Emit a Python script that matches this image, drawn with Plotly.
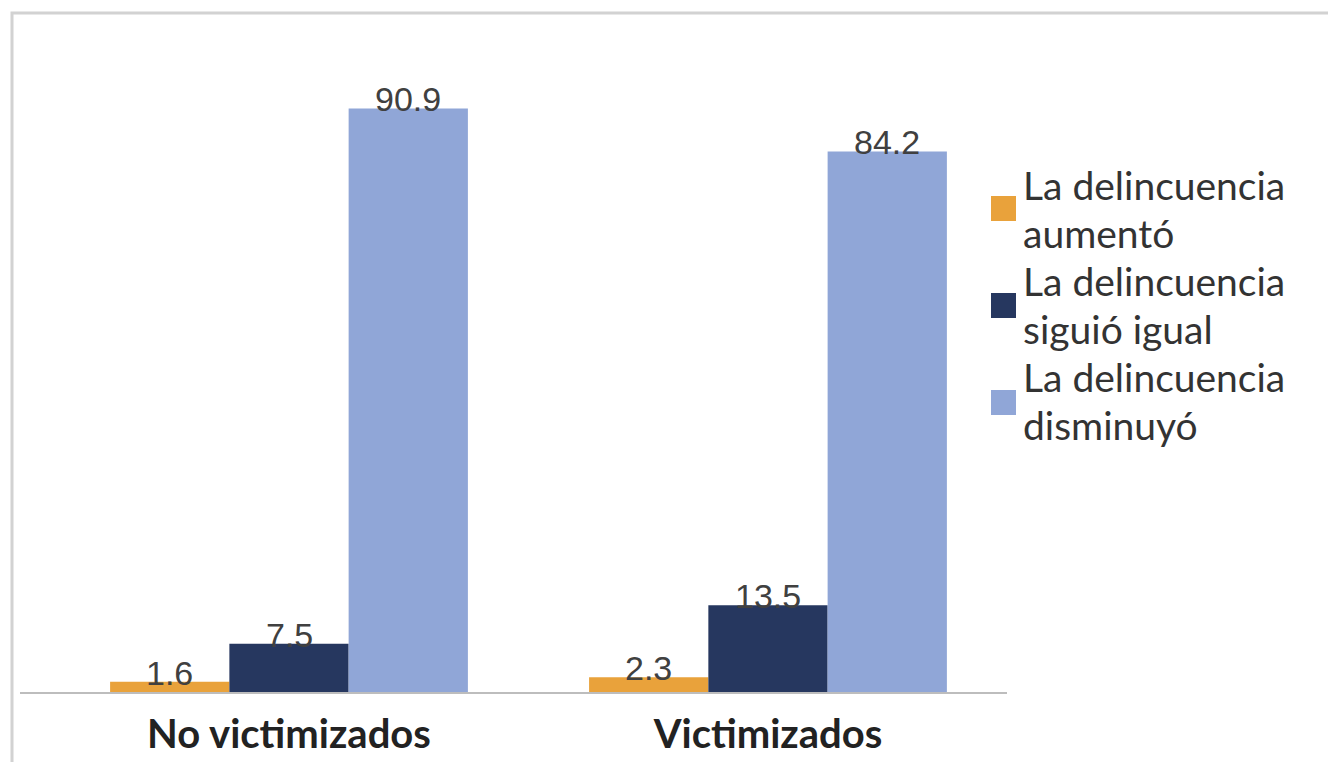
import plotly.graph_objects as go

categories = ["No victimizados", "Victimizados"]
series_names = ["La delincuencia<br>aumentó", "La delincuencia<br>siguió igual", "La delincuencia<br>disminuyó"]
aumento = [1.6, 2.3]
igual = [7.5, 13.5]
disminuyo = [90.9, 84.2]
colors = ["#E9A23B", "#26375F", "#90A6D7"]

W, H = 1320, 754
L, R, T, B = 12, 321, 42, 70
PW, PH = W - L - R, H - T - B
BARGAP = 0.253
LEG_SIZE = 39


def fx(p):
    return p - 8


def fy(p):
    return p - 8


def px_x(p):
    return (p - L) / PW


def px_y(p):
    return (H - B - p) / PH


fig = go.Figure()
series = [aumento, igual, disminuyo]
bw = (1 - BARGAP) / len(series)
annotations = []
shapes = []
legend_baselines = [(200, 248), (296, 344), (392, 440)]
legend_sq = [208.5, 305.5, 402.5]
for i, (name, vals, col) in enumerate(zip(series_names, series, colors)):
    fig.add_trace(go.Bar(x=categories, y=vals, name=name, marker_color=col,
                         marker_line_width=0, showlegend=False))
    for j, v in enumerate(vals):
        annotations.append(dict(x=j + (i - 1) * bw, y=v, xref="x", yref="y",
                                text=f"{v:.1f}", showarrow=False, yanchor="bottom",
                                yshift=-12,
                                font=dict(family="Liberation Sans", size=34, color="#404040")))
    # legend entry (square + two text lines)
    cy = fy(legend_sq[i])
    shapes.append(dict(type="rect", xref="paper", yref="paper",
                       x0=px_x(fx(991)), x1=px_x(fx(1016)), y0=px_y(cy + 12.5), y1=px_y(cy - 12.5),
                       fillcolor=col, line_width=0))
    for line, bl in zip(name.split("<br>"), legend_baselines[i]):
        annotations.append(dict(x=px_x(fx(1022)), y=px_y(fy(bl) - 0.387 * LEG_SIZE),
                                xref="paper", yref="paper", borderpad=0,
                                text=line, showarrow=False, xanchor="left", yanchor="middle",
                                align="left",
                                font=dict(family="Lato", size=LEG_SIZE, color="#333333")))

shapes.append(dict(type="rect", xref="paper", yref="paper",
                   x0=px_x(fx(12)), x1=px_x(1400), y0=px_y(900), y1=px_y(fy(13)),
                   line=dict(color="#d2d2d2", width=3), fillcolor="rgba(0,0,0,0)", layer="below"))

fig.update_layout(
    width=W, height=H,
    margin=dict(l=L, r=R, t=T, b=B, autoexpand=False),
    paper_bgcolor="white", plot_bgcolor="white",
    barmode="group", bargap=BARGAP, bargroupgap=0,
    showlegend=False,
    xaxis=dict(type="category", range=[-0.5616, 1.499], showline=True, linecolor="#bdbdbd",
               linewidth=2, ticks="", showgrid=False, ticklabelstandoff=6, automargin=False,
               tickfont=dict(family="Lato", size=40, color="#222222", weight="bold")),
    yaxis=dict(range=[0, 100], visible=False, showgrid=False, automargin=False),
    shapes=shapes,
    annotations=annotations,
)

fig.write_html("out.html")
